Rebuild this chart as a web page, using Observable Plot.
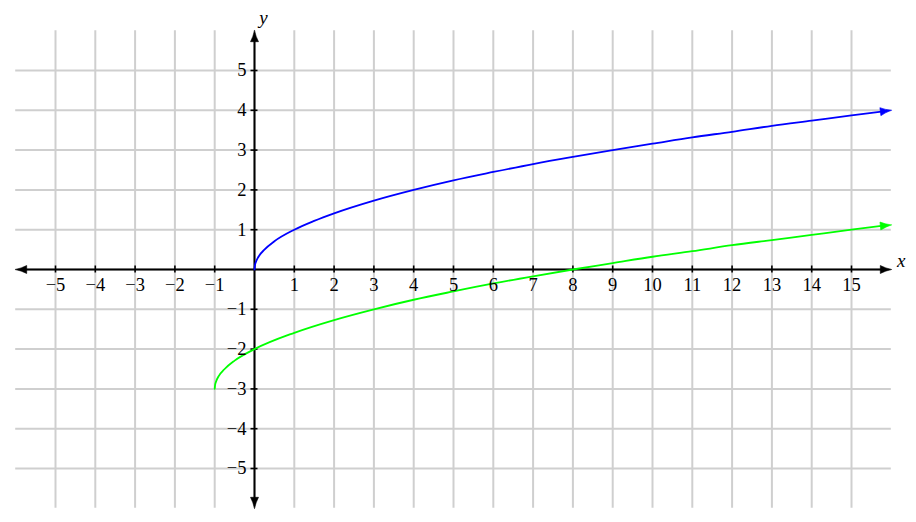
<!DOCTYPE html>
<html>
<head>
<meta charset="utf-8">
<script src="https://cdn.jsdelivr.net/npm/d3@7"></script>
<script src="https://cdn.jsdelivr.net/npm/@observablehq/plot@0.6"></script>
<style>
  html, body { margin: 0; padding: 0; background: white; }
</style>
</head>
<body>
<div id="chart"></div>
<script>
// ---- data ----
const xTickValues = [-5, -4, -3, -2, -1, 1, 2, 3, 4, 5, 6, 7, 8, 9, 10, 11, 12, 13, 14, 15];
const yTickValues = [-5, -4, -3, -2, -1, 1, 2, 3, 4, 5];
const xGridValues = [-5, -4, -3, -2, -1, 0, 1, 2, 3, 4, 5, 6, 7, 8, 9, 10, 11, 12, 13, 14, 15];
const yGridValues = [-5, -4, -3, -2, -1, 0, 1, 2, 3, 4, 5];
const axisExtentX = [-6, 16];
const axisExtentY = [-6, 6];

// blue curve (last entry = arrow tip)
const blueX = [0, 0.01, 0.04, 0.1, 0.25, 0.5, 1, 1.5, 2, 3, 4, 5, 6, 7, 8, 9, 10, 11, 12, 13, 14, 15, 15.8, 16];
const blueY = [0, 0.1, 0.2, 0.32, 0.5, 0.71, 1, 1.22, 1.41, 1.73, 2, 2.24, 2.45, 2.65, 2.83, 3, 3.16, 3.32, 3.46, 3.61, 3.74, 3.87, 3.975, 4];
// green curve (last entry = arrow tip)
const greenX = [-1, -0.99, -0.96, -0.9, -0.75, -0.5, 0, 1, 2, 3, 4, 5, 6, 7, 8, 9, 10, 11, 12, 13, 14, 15, 15.8, 16];
const greenY = [-3, -2.9, -2.8, -2.68, -2.5, -2.29, -2, -1.59, -1.27, -1, -0.76, -0.55, -0.35, -0.17, 0, 0.16, 0.32, 0.46, 0.61, 0.74, 0.87, 1, 1.1, 1.12];

const blueAll = blueX.map((x, i) => ({x, y: blueY[i]}));
const greenAll = greenX.map((x, i) => ({x, y: greenY[i]}));
const blue = blueAll.slice(0, -1);   // line stops just behind the head
const green = greenAll.slice(0, -1);

// ---- geometry ----
const W = 916, H = 522;
const unit = 39.8;            // pixels per unit
const x0px = 254, y0px = 269; // origin position
const xDomain = [-x0px / unit, (W - x0px) / unit];
const yDomain = [-(H - y0px) / unit, y0px / unit];
const headLen = 11, headHalf = 4;
const headBack = 7 / unit;

// LaTeX-like arrow head, tip at (0,-l)
const latexHead = {
  draw(context, l, r) {
    context.moveTo(0, -l);
    context.quadraticCurveTo(-r * 0.35, -l * 0.45, -r, 0);
    context.lineTo(r, 0);
    context.quadraticCurveTo(r * 0.35, -l * 0.45, 0, -l);
    context.closePath();
  }
};

function headFor(pts, color) {
  const p = pts[pts.length - 1], q = pts[pts.length - 2];
  const ang = Math.atan2(p.y - q.y, p.x - q.x) * 180 / Math.PI;
  return {x: p.x, y: p.y, rotate: 90 - ang, color};
}
const heads = [
  headFor(blueAll, "#0000ff"),
  headFor(greenAll, "#00ff00"),
  {x: axisExtentX[1], y: 0, rotate: 90, color: "black"},
  {x: axisExtentX[0], y: 0, rotate: -90, color: "black"},
  {x: 0, y: axisExtentY[1], rotate: 0, color: "black"},
  {x: 0, y: axisExtentY[0], rotate: 180, color: "black"}
];

const font = "'Liberation Serif', 'DejaVu Serif', serif";
const fmt = d => d3.format("d")(d).replace("-", "\u2212");

const chart = Plot.plot({
  width: W,
  height: H,
  margin: 0,
  style: {background: "white", fontFamily: font, fontSize: "18px"},
  x: {domain: xDomain, axis: null},
  y: {domain: yDomain, axis: null},
  marks: [
    // grid
    Plot.ruleX(xGridValues, {x: d => d, y1: axisExtentY[0], y2: axisExtentY[1], stroke: "#cfcfcf", strokeWidth: 2}),
    Plot.ruleY(yGridValues, {y: d => d, x1: axisExtentX[0], x2: axisExtentX[1], stroke: "#cfcfcf", strokeWidth: 2}),
    // axes
    Plot.ruleY([0], {x1: axisExtentX[0] + headBack, x2: axisExtentX[1] - headBack, stroke: "black", strokeWidth: 2}),
    Plot.ruleX([0], {y1: axisExtentY[0] + headBack, y2: axisExtentY[1] - headBack, stroke: "black", strokeWidth: 2}),
    // ticks
    Plot.ruleX(xTickValues, {x: d => d, y1: -3.5 / unit, y2: 3.5 / unit, stroke: "black", strokeWidth: 1.6}),
    Plot.ruleY(yTickValues, {y: d => d, x1: -3.5 / unit, x2: 3.5 / unit, stroke: "black", strokeWidth: 1.6}),
    // curves
    Plot.line(blue, {x: "x", y: "y", stroke: "#0000ff", strokeWidth: 1.8, curve: "monotone-x"}),
    Plot.line(green, {x: "x", y: "y", stroke: "#00ff00", strokeWidth: 1.8, curve: "monotone-x"}),
    // arrow heads
    Plot.vector(heads, {x: "x", y: "y", rotate: "rotate", length: headLen, r: headHalf, anchor: "end",
      shape: latexHead, fill: d => d.color, stroke: d => d.color, strokeWidth: 0.6}),
    // tick labels
    Plot.text(xTickValues, {x: d => d, y: 0, dy: 16, text: fmt, fontSize: 18.5, fontFamily: font, fill: "black"}),
    Plot.text(yTickValues, {x: 0, y: d => d, dx: -8, textAnchor: "end", text: fmt, fontSize: 18.5, fontFamily: font, fill: "black"}),
    // axis names
    Plot.text(["x"], {x: axisExtentX[1], y: 0, dx: 10, dy: -9, text: d => d, fontSize: 19, fontStyle: "italic", fontFamily: font, fill: "black"}),
    Plot.text(["y"], {x: 0, y: axisExtentY[1], dx: 9, dy: -13, text: d => d, fontSize: 19, fontStyle: "italic", fontFamily: font, fill: "black"})
  ]
});
document.getElementById("chart").appendChild(chart);
</script>
</body>
</html>
